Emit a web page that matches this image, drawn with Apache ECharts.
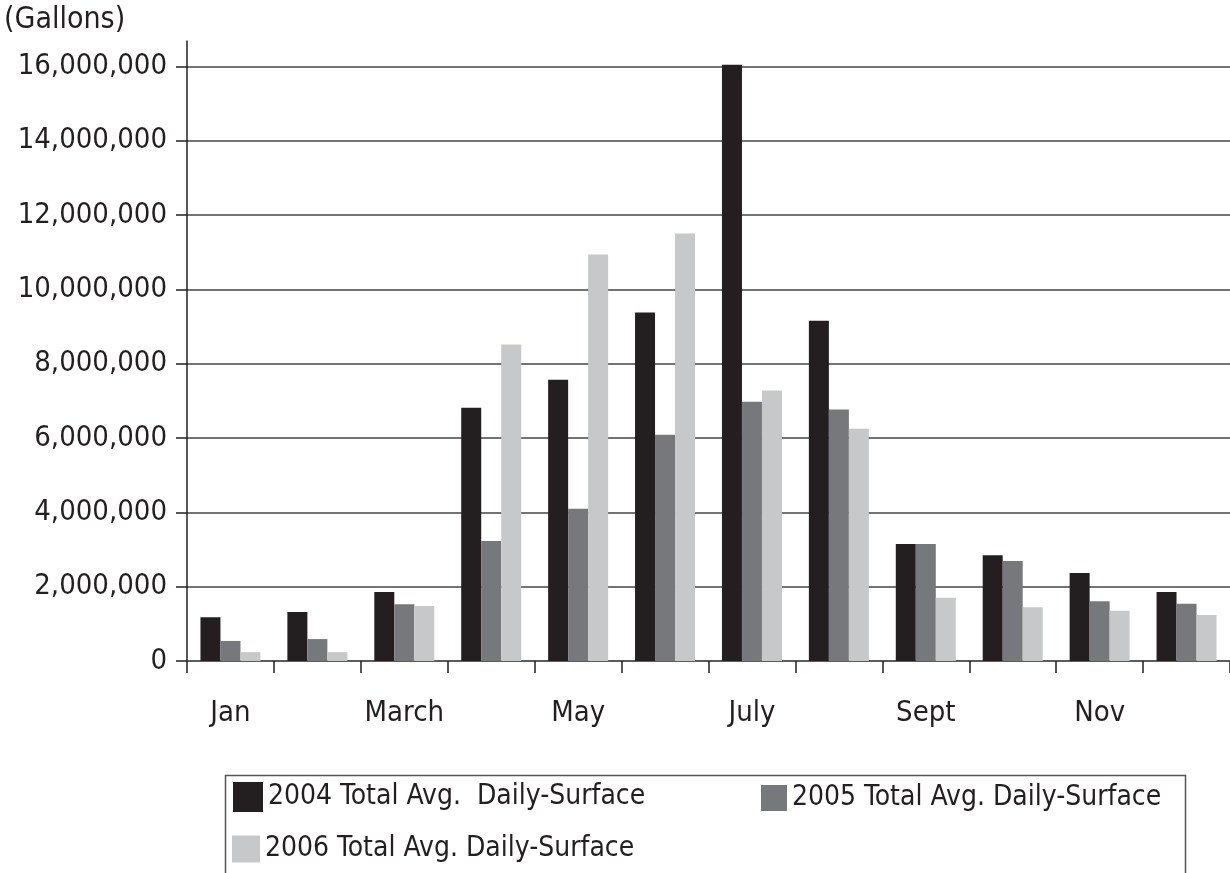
<!DOCTYPE html>
<html>
<head>
<meta charset="utf-8">
<script src="https://cdn.jsdelivr.net/npm/echarts@6/dist/echarts.min.js"></script>
<style>
  html, body { margin: 0; padding: 0; background: #fff; }
  #chart { width: 1230px; height: 873px; }
</style>
</head>
<body>
<div id="chart"></div>
<script>
var months = ['Jan', 'Feb', 'March', 'April', 'May', 'June', 'July', 'Aug', 'Sept', 'Oct', 'Nov', 'Dec']
var seriesNames = ['2004 Total Avg.  Daily-Surface', '2005 Total Avg. Daily-Surface', '2006 Total Avg. Daily-Surface']
var avg2004 = [1180000, 1320000, 1860000, 6820000, 7570000, 9380000, 16050000, 9160000, 3150000, 2850000, 2370000, 1860000]
var avg2005 = [540000, 590000, 1530000, 3230000, 4100000, 6090000, 6980000, 6770000, 3150000, 2690000, 1610000, 1540000]
var avg2006 = [240000, 240000, 1480000, 8520000, 10940000, 11510000, 7280000, 6250000, 1700000, 1450000, 1350000, 1240000]
var yTicks = [0, 2000000, 4000000, 6000000, 8000000, 10000000, 12000000, 14000000, 16000000]

var font = '"Liberation Sans Narrow", "DejaVu Sans Condensed", "Liberation Sans", sans-serif'
var ink = '#231f20'
var colors = ['#231f20', '#77787b', '#c7c8ca']

var myChart = echarts.init(document.getElementById('chart'))

function makeSeries (name, data, color) {
  return {
    name: name,
    type: 'bar',
    data: data,
    barWidth: 20,
    barGap: '0%',
    itemStyle: { color: color }
  }
}

// one legend per entry so each can sit where the original has it
function makeLegend (name, left, top, w, h) {
  return {
    data: [name],
    left: left,
    top: top,
    padding: 0,
    icon: 'rect',
    itemWidth: w,
    itemHeight: h,
    selectedMode: false,
    textStyle: { fontFamily: font, fontSize: 28, lineHeight: h, color: ink }
  }
}

var option = {
  backgroundColor: '#fff',
  animation: false,
  title: {
    text: '(Gallons)',
    left: 4,
    top: 5,
    padding: 0,
    textStyle: { fontFamily: font, fontSize: 30, fontWeight: 'normal', color: ink }
  },
  grid: {
    left: 187,
    right: 0,
    top: 41,
    bottom: 212,
    outerBoundsMode: 'none'
  },
  legend: [
    makeLegend(seriesNames[0], 233, 782, 30, 30),
    makeLegend(seriesNames[1], 761, 784, 26, 26),
    makeLegend(seriesNames[2], 232, 835, 28, 27)
  ],
  graphic: [{
    type: 'rect',
    left: 223,
    top: 773,
    shape: { width: 960, height: 120 },
    style: { fill: 'none', stroke: '#555', lineWidth: 1.5 },
    silent: true
  }],
  xAxis: {
    type: 'category',
    data: months,
    axisLine: { lineStyle: { color: '#555', width: 1.5 } },
    axisTick: { show: true, interval: 0, length: 12, lineStyle: { color: ink, width: 1.5 } },
    axisLabel: {
      interval: 1,
      margin: 38,
      fontFamily: font,
      fontSize: 29,
      color: ink
    }
  },
  yAxis: {
    type: 'value',
    min: 0,
    max: 16690000,
    interval: 2000000,
    axisLine: { show: true, lineStyle: { color: ink, width: 1.5 } },
    axisTick: { show: true, length: 11, customValues: yTicks, lineStyle: { color: ink, width: 1.5 } },
    splitLine: { show: true, lineStyle: { color: '#444', width: 1.5 } },
    axisLabel: {
      customValues: yTicks,
      margin: 20,
      fontFamily: font,
      fontSize: 29,
      color: ink,
      formatter: function (v) {
        return v.toLocaleString('en-US')
      }
    }
  },
  series: [
    makeSeries(seriesNames[0], avg2004, colors[0]),
    makeSeries(seriesNames[1], avg2005, colors[1]),
    makeSeries(seriesNames[2], avg2006, colors[2])
  ]
}

myChart.setOption(option)
</script>
</body>
</html>
